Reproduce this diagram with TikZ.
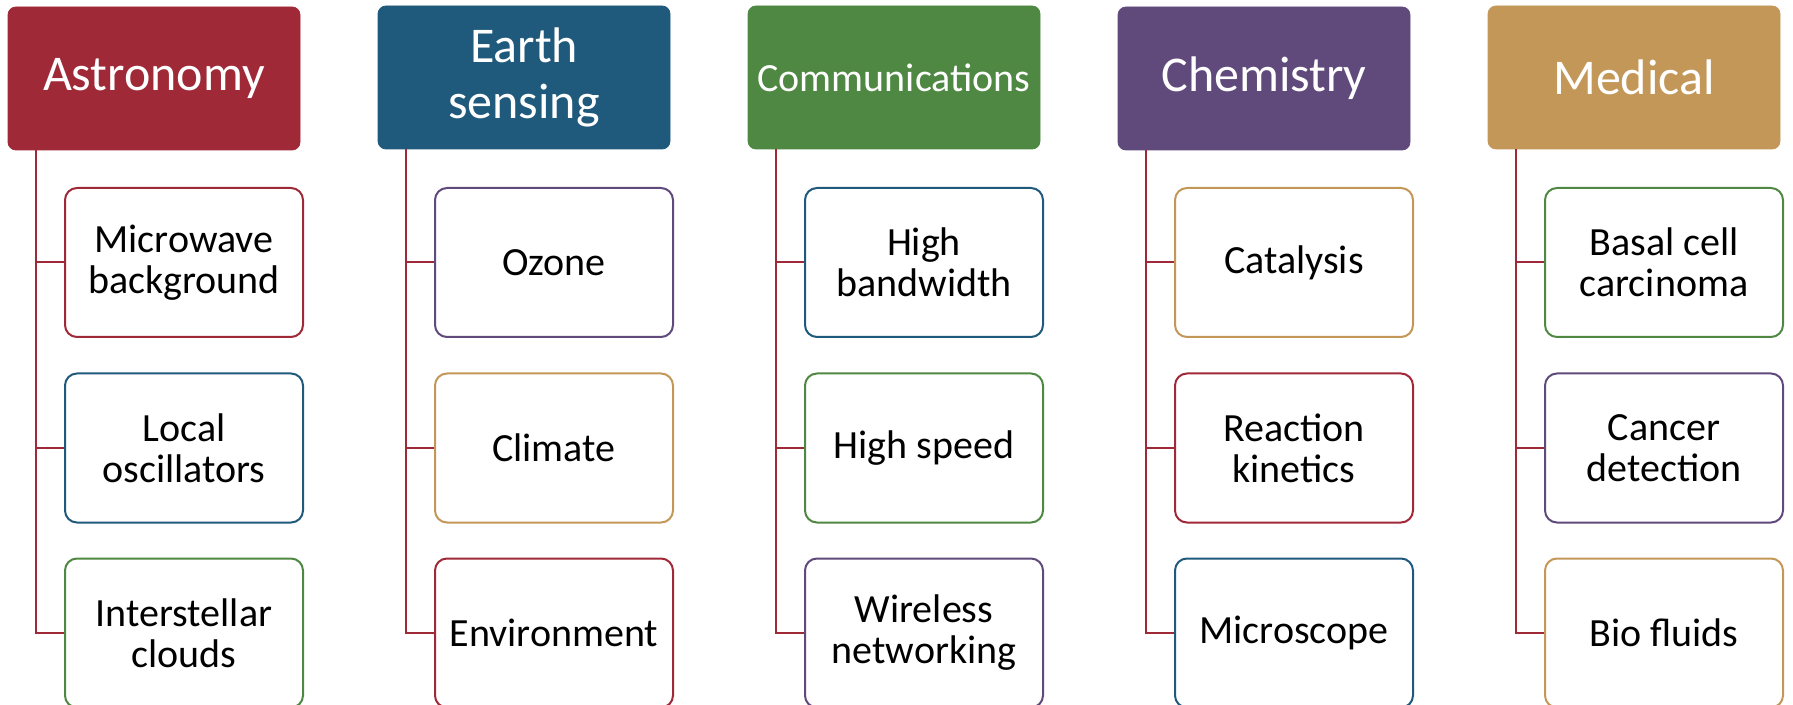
\documentclass[tikz,border=0pt]{standalone}
\usepackage{fontspec}
\setmainfont{Carlito}
\usepackage{tikz}

\definecolor{astroRed}{RGB}{160,41,56}
\definecolor{earthBlue}{RGB}{31,89,124}
\definecolor{commGreen}{RGB}{79,136,66}
\definecolor{chemPurple}{RGB}{96,74,123}
\definecolor{medTan}{RGB}{195,151,88}

\begin{document}
\begin{tikzpicture}[x=0.5pt,y=0.5pt,
	head_node/.style={rectangle,rounded corners=4pt,fill=#1,draw=#1,text=white,align=center,minimum width=146pt,minimum height=71.5pt,inner sep=0pt,font=\fontsize{25}{28}\selectfont},
	item_node/.style={rectangle,rounded corners=6pt,fill=white,draw=#1,line width=1pt,align=center,minimum width=119pt,minimum height=74.5pt,inner sep=0pt,font=\fontsize{20}{20.5}\selectfont},
	link_line/.style={draw=astroRed,line width=1pt}]
	\useasboundingbox (0,0) rectangle (1793,-705);

	% heads
	\node[head_node=astroRed] (astro) at (154,-78.5) {Astronomy};
	\node[head_node=earthBlue] (earth) at (524,-77.5) {Earth\\sensing};
	\node[head_node=commGreen,font=\fontsize{20}{24}\selectfont] (comm) at (894,-77.5) {Communications};
	\node[head_node=chemPurple] (chem) at (1264,-78.5) {Chemistry};
	\node[head_node=medTan] (med) at (1634,-77.5) {Medical};

	% astronomy
	\node[item_node=astroRed] (astro1) at (184,-262.5) {Microwave\\background};
	\node[item_node=earthBlue] (astro2) at (184,-448) {Local\\oscillators};
	\node[item_node=commGreen] (astro3) at (184,-633) {Interstellar\\clouds};

	% earth sensing
	\node[item_node=chemPurple] (earth1) at (554,-262.5) {Ozone};
	\node[item_node=medTan] (earth2) at (554,-448) {Climate};
	\node[item_node=astroRed] (earth3) at (554,-633) {Environment};

	% communications
	\node[item_node=earthBlue] (comm1) at (924,-262.5) {High\\bandwidth};
	\node[item_node=commGreen] (comm2) at (924,-448) {High speed};
	\node[item_node=chemPurple] (comm3) at (924,-633) {Wireless\\networking};

	% chemistry
	\node[item_node=medTan] (chem1) at (1294,-262.5) {Catalysis};
	\node[item_node=astroRed] (chem2) at (1294,-448) {Reaction\\kinetics};
	\node[item_node=earthBlue] (chem3) at (1294,-633) {Microscope};

	% medical
	\node[item_node=commGreen] (med1) at (1664,-262.5) {Basal cell\\carcinoma};
	\node[item_node=chemPurple] (med2) at (1664,-448) {Cancer\\detection};
	\node[item_node=medTan] (med3) at (1664,-633) {Bio fluids};

	\draw[link_line] ([xshift=14pt]astro.south west) |- (astro1.west);
	\draw[link_line] ([xshift=14pt]astro.south west) |- (astro2.west);
	\draw[link_line] ([xshift=14pt]astro.south west) |- (astro3.west);
	\draw[link_line] ([xshift=14pt]earth.south west) |- (earth1.west);
	\draw[link_line] ([xshift=14pt]earth.south west) |- (earth2.west);
	\draw[link_line] ([xshift=14pt]earth.south west) |- (earth3.west);
	\draw[link_line] ([xshift=14pt]comm.south west) |- (comm1.west);
	\draw[link_line] ([xshift=14pt]comm.south west) |- (comm2.west);
	\draw[link_line] ([xshift=14pt]comm.south west) |- (comm3.west);
	\draw[link_line] ([xshift=14pt]chem.south west) |- (chem1.west);
	\draw[link_line] ([xshift=14pt]chem.south west) |- (chem2.west);
	\draw[link_line] ([xshift=14pt]chem.south west) |- (chem3.west);
	\draw[link_line] ([xshift=14pt]med.south west) |- (med1.west);
	\draw[link_line] ([xshift=14pt]med.south west) |- (med2.west);
	\draw[link_line] ([xshift=14pt]med.south west) |- (med3.west);
\end{tikzpicture}
\end{document}
